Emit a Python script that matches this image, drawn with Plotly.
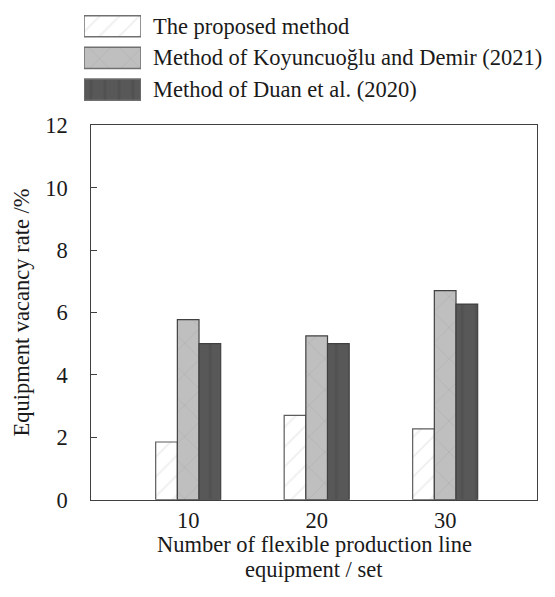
import plotly.graph_objects as go

W, H = 555, 597

# ---------------- data ----------------
categories = [10, 20, 30]
series_names = [
    "The proposed method",
    "Method of Koyuncuoğlu and Demir (2021)",
    "Method of Duan et al. (2020)",
]
proposed = [1.85, 2.7, 2.27]
koyuncuoglu = [5.77, 5.25, 6.7]
duan = [5.0, 5.0, 6.27]
y_ticks = [0, 2, 4, 6, 8, 10, 12]
x_title_lines = ["Number of flexible production line", "equipment / set"]
y_title = "Equipment vacancy rate /%"

# ---------------- styles ----------------
FONT = "Liberation Serif, Times New Roman, serif"
FS = 22.5
TXT = "#1a1a1a"
styles = [
    dict(bg="#ffffff", fg="#e2e2e2", shape="/", size=14, sol=0.15, line="#5c5c5c"),
    dict(bg="#bfbfbf", fg="#a8a8a8", shape="x", size=22, sol=0.08, line="#404040"),
    dict(bg="#585858", fg="#4a4a4a", shape="|", size=14, sol=0.2, line="#404040"),
]
values = [proposed, koyuncuoglu, duan]

# plot area in pixels
PX_L, PX_R, PX_T, PX_B = 91.3, 537.3, 118.3, 509.0

fig = go.Figure()
for name, vals, st in zip(series_names, values, styles):
    fig.add_trace(go.Bar(
        x=categories, y=vals, name=name, showlegend=False,
        marker=dict(
            color=st["bg"],
            line=dict(color=st["line"], width=1.2),
            pattern=dict(shape=st["shape"], bgcolor=st["bg"], fgcolor=st["fg"],
                         size=st["size"], solidity=st["sol"]),
        ),
        xaxis="x", yaxis="y",
    ))

# legend keys drawn as horizontal bars on an overlay axis
for name, st in zip(series_names, styles):
    fig.add_trace(go.Bar(
        y=[name], x=[1], orientation="h", showlegend=False, width=0.667,
        marker=dict(
            color=st["bg"],
            line=dict(color="#707070", width=1.5),
            pattern=dict(shape=st["shape"], bgcolor=st["bg"], fgcolor=st["fg"],
                         size=st["size"], solidity=st["sol"]),
        ),
        xaxis="x2", yaxis="y2", hoverinfo="skip",
    ))

LEG_X0, LEG_X1 = 84, 141
LEG_TOP, LEG_BOT = 0, 97.5

fig.update_layout(
    width=W, height=H,
    margin=dict(l=0, r=0, t=0, b=0),
    paper_bgcolor="white", plot_bgcolor="white",
    barmode="group", bargap=0.494, bargroupgap=0,
    font=dict(family=FONT, size=FS, color=TXT),
    xaxis=dict(
        domain=[PX_L / W, PX_R / W],
        range=[2.46, 37.17],
        tickvals=categories, ticktext=[str(c) for c in categories],
        ticks="", showgrid=False, zeroline=False,
        showline=True, mirror=True, linecolor="#404040", linewidth=1.3,
        ticklabelstandoff=0,
        tickfont=dict(family=FONT, size=FS, color=TXT),
    ),
    yaxis=dict(
        domain=[1 - PX_B / H, 1 - PX_T / H],
        range=[0, 12], tickvals=y_ticks,
        ticks="inside", ticklen=6, tickwidth=1.2, tickcolor="#404040",
        showgrid=False, zeroline=False,
        showline=True, mirror=True, linecolor="#404040", linewidth=1.3,
        ticklabelstandoff=18,
        tickfont=dict(family=FONT, size=FS, color=TXT),
    ),
    xaxis2=dict(
        domain=[LEG_X0 / W, LEG_X1 / W], range=[0, 1], anchor="y2",
        visible=False, fixedrange=True,
    ),
    yaxis2=dict(
        domain=[1 - LEG_BOT / H, 1 - LEG_TOP / H], anchor="x2",
        type="category", categoryorder="array", categoryarray=series_names,
        range=[2.5, -0.45], visible=False, fixedrange=True,
    ),
)

annotations = []
leg_centers = [15, 48, 81]
for name, cy in zip(series_names, leg_centers):
    annotations.append(dict(
        x=151 / W, y=1 - cy / H, xref="paper", yref="paper",
        text=name, showarrow=False, xanchor="left", yanchor="middle",
        font=dict(family=FONT, size=FS, color=TXT),
    ))
# axis titles
annotations.append(dict(
    x=22 / W, y=1 - (PX_T + PX_B) / 2 / H, xref="paper", yref="paper",
    text=y_title, textangle=-90, showarrow=False,
    xanchor="center", yanchor="middle",
    font=dict(family=FONT, size=FS, color=TXT),
))
for line, cy in zip(x_title_lines, [556, 582]):
    annotations.append(dict(
        x=(PX_L + PX_R) / 2 / W, y=1 - cy / H, xref="paper", yref="paper",
        text=line, showarrow=False, xanchor="center", yanchor="middle",
        font=dict(family=FONT, size=FS, color=TXT),
    ))
fig.update_layout(annotations=annotations)

fig.write_html("out.html", config={"displayModeBar": False},
               post_script="document.body.style.margin='0';")
